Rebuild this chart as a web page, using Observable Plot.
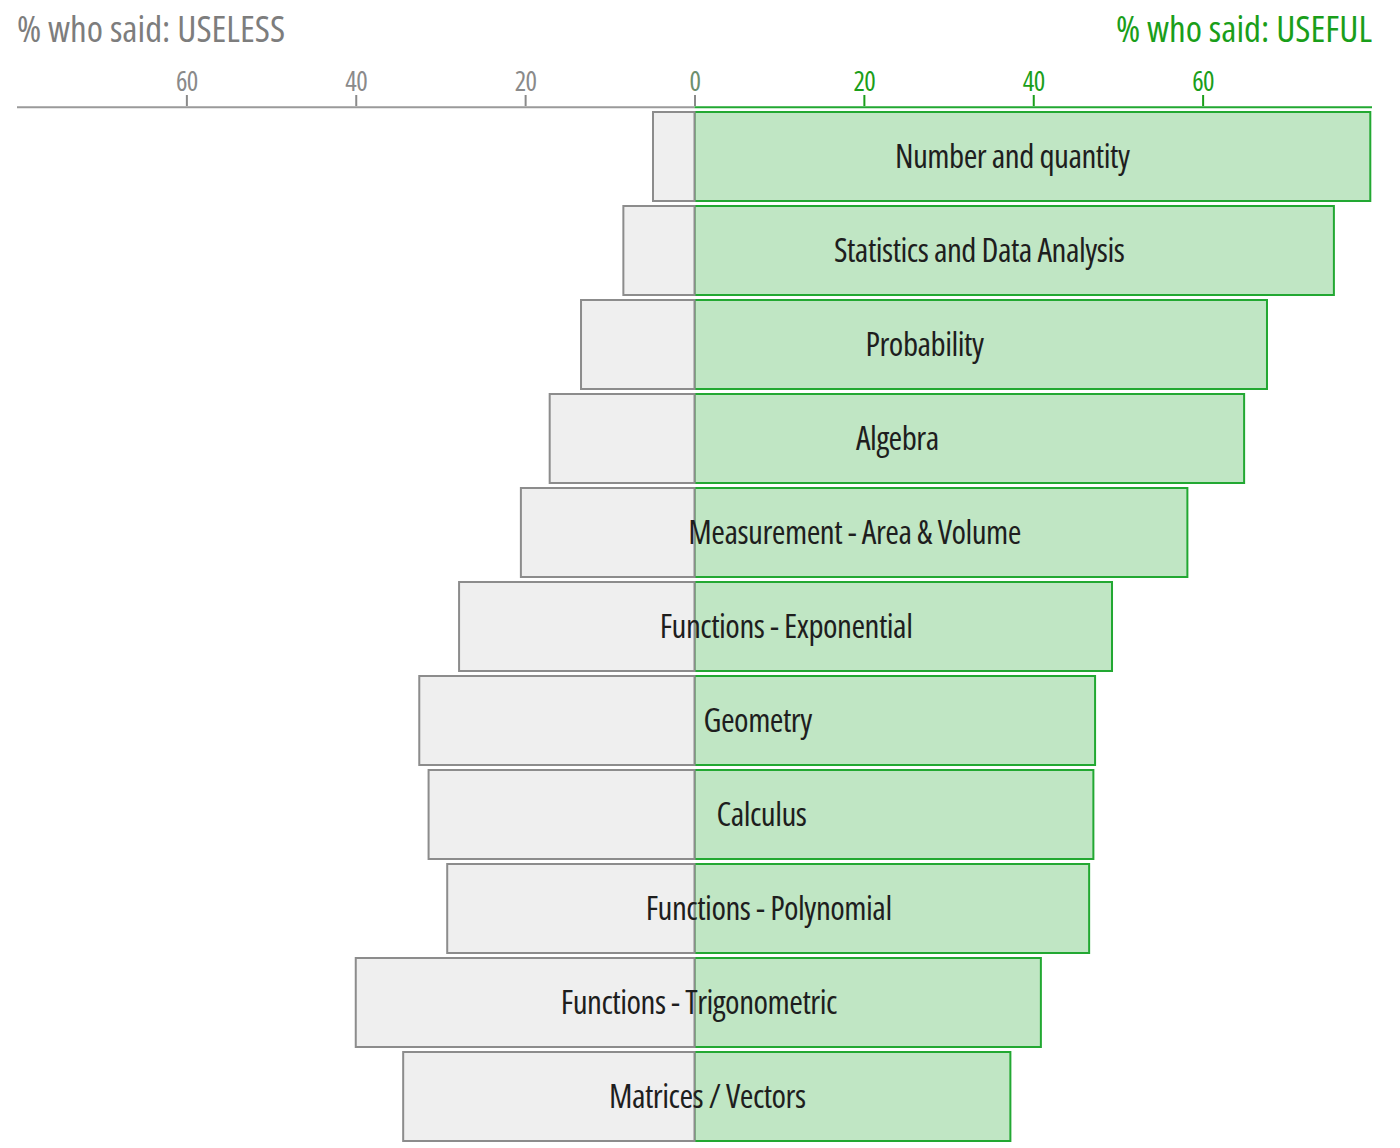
<!DOCTYPE html>
<html>
<head>
<meta charset="utf-8">
<script src="https://cdn.jsdelivr.net/npm/d3@7"></script>
<script src="https://cdn.jsdelivr.net/npm/@observablehq/plot@0.6"></script>
<style>
  html, body { margin: 0; padding: 0; background: #fff; }
  body { width: 1400px; height: 1148px; overflow: hidden; font-family: 'Open Sans', sans-serif; font-stretch: 75%; }
  #header { position: relative; height: 56px; }
  #header span { position: absolute; top: 0px; line-height: 56px; font-size: 37px; font-stretch: 75%; }
  #tl { left: 17px; color: #7d7d7d; }
  #tr { right: 28px; color: #1a9e1a; }
  #chart svg text { font-family: 'Open Sans', sans-serif !important; font-stretch: 75% !important; }
  #chart svg g[aria-label="text"] text { letter-spacing: -0.5px; }
  #chart svg g[aria-label="x-axis tick label"] text { letter-spacing: -0.5px; }
</style>
</head>
<body>
<div id="header"><span id="tl">% who said: USELESS</span><span id="tr">% who said: USEFUL</span></div>
<div id="chart"></div>
<script>
const categories = [
  "Number and quantity",
  "Statistics and Data Analysis",
  "Probability",
  "Algebra",
  "Measurement - Area & Volume",
  "Functions - Exponential",
  "Geometry",
  "Calculus",
  "Functions - Polynomial",
  "Functions - Trigonometric",
  "Matrices / Vectors"
];
const useful  = [79.8, 75.5, 67.6, 64.9, 58.2, 49.3, 47.3, 47.1, 46.6, 40.9, 37.3];
const useless = [4.9, 8.4, 13.4, 17.1, 20.5, 27.8, 32.5, 31.4, 29.2, 40.0, 34.4];
const leftTicks = [-60, -40, -20];
const zeroTick = [0];
const rightTicks = [20, 40, 60];

const rows = categories.map((c, i) => ({cat: c, useful: useful[i], useless: useless[i]}));

const W = 1400, H = 1092, mTop = 49, mBottom = 0;
const padIn = 0.05, padOut = 0.053;
const step = (H - mTop - mBottom) / (categories.length - padIn + 2 * padOut);
const axisDy = -(step * (1 - padIn) / 2 + step * padOut);

const chart = Plot.plot({
  width: W,
  height: H,
  marginTop: mTop,
  marginBottom: mBottom,
  marginLeft: 17,
  marginRight: 28,
  style: {background: "#fff"},
  x: {domain: [-80, 80]},
  y: {domain: categories, paddingInner: padIn, paddingOuter: padOut, axis: null},
  marks: [
    Plot.barX(rows, {y: "cat", x1: 0, x2: "useful", fill: "#c0e6c4", stroke: "#22a832", strokeWidth: 2}),
    Plot.barX(rows, {y: "cat", x1: d => -d.useless, x2: 0, fill: "#efefef", stroke: "#8c8c8c", strokeWidth: 2}),
    Plot.text(rows, {y: "cat", x: d => (d.useful - d.useless) / 2, text: "cat", fontSize: 33, fill: "#1e1e1e"}),
    Plot.ruleY([categories[0]], {x1: -80, x2: 0, dy: axisDy, stroke: "#9a9a9a", strokeWidth: 2}),
    Plot.ruleY([categories[0]], {x1: 0, x2: 80, dy: axisDy, stroke: "#22a832", strokeWidth: 2}),
    Plot.axisX({anchor: "top", ticks: leftTicks, tickFormat: d => Math.abs(d), tickSize: 11, tickPadding: 4, fontSize: 27, color: "#8a8a8a", strokeWidth: 2, label: null}),
    Plot.axisX({anchor: "top", ticks: zeroTick, tickFormat: d => d, tickSize: 11, tickPadding: 4, fontSize: 27, fill: "#6d8f6d", stroke: "#8a8a8a", strokeWidth: 2, label: null}),
    Plot.axisX({anchor: "top", ticks: rightTicks, tickFormat: d => d, tickSize: 11, tickPadding: 4, fontSize: 27, color: "#1a9e1a", strokeWidth: 2, label: null})
  ]
});
document.getElementById("chart").appendChild(chart);
</script>
</body>
</html>
